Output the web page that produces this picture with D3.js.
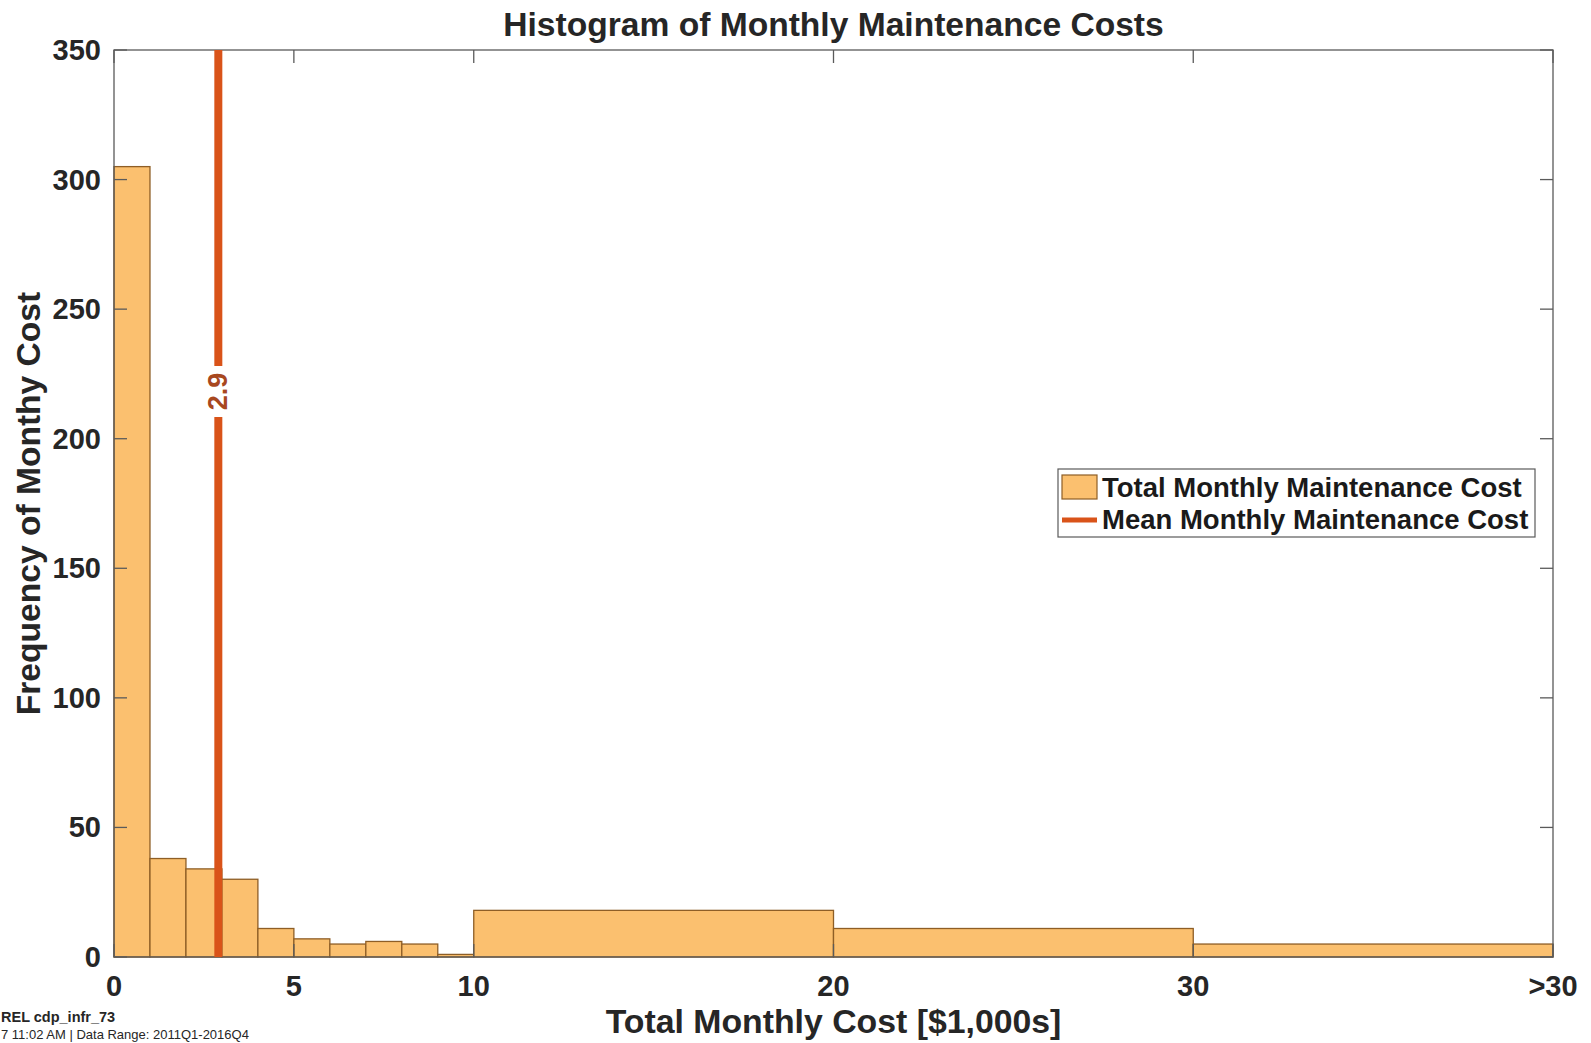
<!DOCTYPE html>
<html>
<head>
<meta charset="utf-8">
<script src="https://cdnjs.cloudflare.com/ajax/libs/d3/7.8.5/d3.min.js"></script>
<style>
  html, body { margin: 0; padding: 0; background: #fff; }
  svg { display: block; font-family: "Liberation Sans", Arial, Helvetica, sans-serif; }
</style>
</head>
<body>
<svg id="chart" width="1591" height="1043"></svg>
<script>
// Histogram bin edges (in $1,000s); the last bin collects everything above 30
const binStarts = [0, 1, 2, 3, 4, 5, 6, 7, 8, 9, 10, 20, 30];
const binEnds   = [1, 2, 3, 4, 5, 6, 7, 8, 9, 10, 20, 30, 40];
const binCounts = [305, 38, 34, 30, 11, 7, 5, 6, 5, 1, 18, 11, 5];

const meanCost = 2.9;

const xTickValues = [0, 5, 10, 20, 30, 40];
const xTickLabels = ["0", "5", "10", "20", "30", ">30"];
const yTickValues = [0, 50, 100, 150, 200, 250, 300, 350];

const legendLabels = ["Total Monthly Maintenance Cost", "Mean Monthly Maintenance Cost"];

const W = 1591, H = 1043;
const plot = { left: 114, right: 1553, top: 50, bottom: 957 };

const barFill = "#FBC06F";
const barEdge = "#8E5E26";
const meanColor = "#D95319";
const textColor = "#262626";
const axisColor = "#5a5a5a";

const svg = d3.select("#chart");

const x = d3.scaleLinear().domain([0, 40]).range([plot.left, plot.right]);
const y = d3.scaleLinear().domain([0, 350]).range([plot.bottom, plot.top]);

// Bars
const bins = binStarts.map((s, i) => ({ x0: s, x1: binEnds[i], n: binCounts[i] }));
svg.append("g").selectAll("rect").data(bins).join("rect")
  .attr("x", d => x(d.x0))
  .attr("y", d => y(d.n))
  .attr("width", d => x(d.x1) - x(d.x0))
  .attr("height", d => y(0) - y(d.n))
  .attr("fill", barFill)
  .attr("stroke", barEdge)
  .attr("stroke-width", 1.3);

// Axes: ticks point inward, labels drawn separately for a MATLAB look
const tickLen = 13;
const axes = svg.append("g").attr("stroke", axisColor).attr("stroke-width", 1.3).attr("fill", "none");
axes.append("rect")
  .attr("x", plot.left).attr("y", plot.top)
  .attr("width", plot.right - plot.left).attr("height", plot.bottom - plot.top);

axes.selectAll(".yl").data(yTickValues).join("line")
  .attr("x1", plot.left).attr("x2", plot.left + tickLen)
  .attr("y1", d => y(d)).attr("y2", d => y(d));
axes.selectAll(".yr").data(yTickValues).join("line")
  .attr("x1", plot.right).attr("x2", plot.right - tickLen)
  .attr("y1", d => y(d)).attr("y2", d => y(d));
axes.selectAll(".xb").data(xTickValues).join("line")
  .attr("x1", d => x(d)).attr("x2", d => x(d))
  .attr("y1", plot.bottom).attr("y2", plot.bottom - tickLen);
axes.selectAll(".xt").data(xTickValues).join("line")
  .attr("x1", d => x(d)).attr("x2", d => x(d))
  .attr("y1", plot.top).attr("y2", plot.top + tickLen);

// Mean line, broken around its value label
const meanX = x(meanCost);
const gapTop = 366, gapBottom = 417;
svg.append("line")
  .attr("x1", meanX).attr("x2", meanX).attr("y1", y(350)).attr("y2", gapTop)
  .attr("stroke", meanColor).attr("stroke-width", 8);
svg.append("line")
  .attr("x1", meanX).attr("x2", meanX).attr("y1", gapBottom).attr("y2", y(0))
  .attr("stroke", meanColor).attr("stroke-width", 8);
svg.append("text")
  .attr("transform", `translate(${meanX + 9},${(gapTop + gapBottom) / 2}) rotate(-90)`)
  .attr("text-anchor", "middle")
  .attr("font-size", 27).attr("font-weight", "bold")
  .attr("fill", "#A8481F")
  .text(meanCost.toFixed(1));

// Tick labels
svg.append("g").selectAll("text").data(yTickValues).join("text")
  .attr("x", 101).attr("y", d => y(d) + 10)
  .attr("text-anchor", "end")
  .attr("font-size", 29).attr("font-weight", "bold").attr("fill", textColor)
  .text(d => d);
svg.append("g").selectAll("text").data(xTickValues).join("text")
  .attr("x", d => x(d)).attr("y", 996)
  .attr("text-anchor", "middle")
  .attr("font-size", 29).attr("font-weight", "bold").attr("fill", textColor)
  .text((d, i) => xTickLabels[i]);

// Title and axis labels
svg.append("text")
  .attr("x", (plot.left + plot.right) / 2).attr("y", 36)
  .attr("text-anchor", "middle")
  .attr("font-size", 33.6).attr("font-weight", "bold").attr("fill", textColor)
  .text("Histogram of Monthly Maintenance Costs");
svg.append("text")
  .attr("x", (plot.left + plot.right) / 2).attr("y", 1033)
  .attr("text-anchor", "middle")
  .attr("font-size", 33.8).attr("font-weight", "bold").attr("fill", textColor)
  .text("Total Monthly Cost [$1,000s]");
svg.append("text")
  .attr("transform", `translate(40,${(plot.top + plot.bottom) / 2}) rotate(-90)`)
  .attr("text-anchor", "middle")
  .attr("font-size", 33.6).attr("font-weight", "bold").attr("fill", textColor)
  .text("Frequency of Monthy Cost");

// Legend
const lg = svg.append("g");
lg.append("rect")
  .attr("x", 1058).attr("y", 469).attr("width", 477).attr("height", 68)
  .attr("fill", "#fff").attr("stroke", axisColor).attr("stroke-width", 1.2);
lg.append("rect")
  .attr("x", 1062).attr("y", 475).attr("width", 35).attr("height", 24)
  .attr("fill", barFill).attr("stroke", barEdge).attr("stroke-width", 1.2);
lg.append("line")
  .attr("x1", 1062).attr("x2", 1097).attr("y1", 520).attr("y2", 520)
  .attr("stroke", meanColor).attr("stroke-width", 5);
lg.selectAll("text").data(legendLabels).join("text")
  .attr("x", 1102).attr("y", (d, i) => 497 + i * 32)
  .attr("font-size", 27.5).attr("font-weight", "bold").attr("fill", "#1a1a1a")
  .text(d => d);

// Footnote
svg.append("text")
  .attr("x", 1).attr("y", 1022)
  .attr("font-size", 14.5).attr("font-weight", "bold").attr("fill", textColor)
  .text("REL cdp_infr_73");
svg.append("text")
  .attr("x", 1).attr("y", 1039)
  .attr("font-size", 13).attr("fill", textColor)
  .text("7 11:02 AM | Data Range: 2011Q1-2016Q4");
</script>
</body>
</html>
